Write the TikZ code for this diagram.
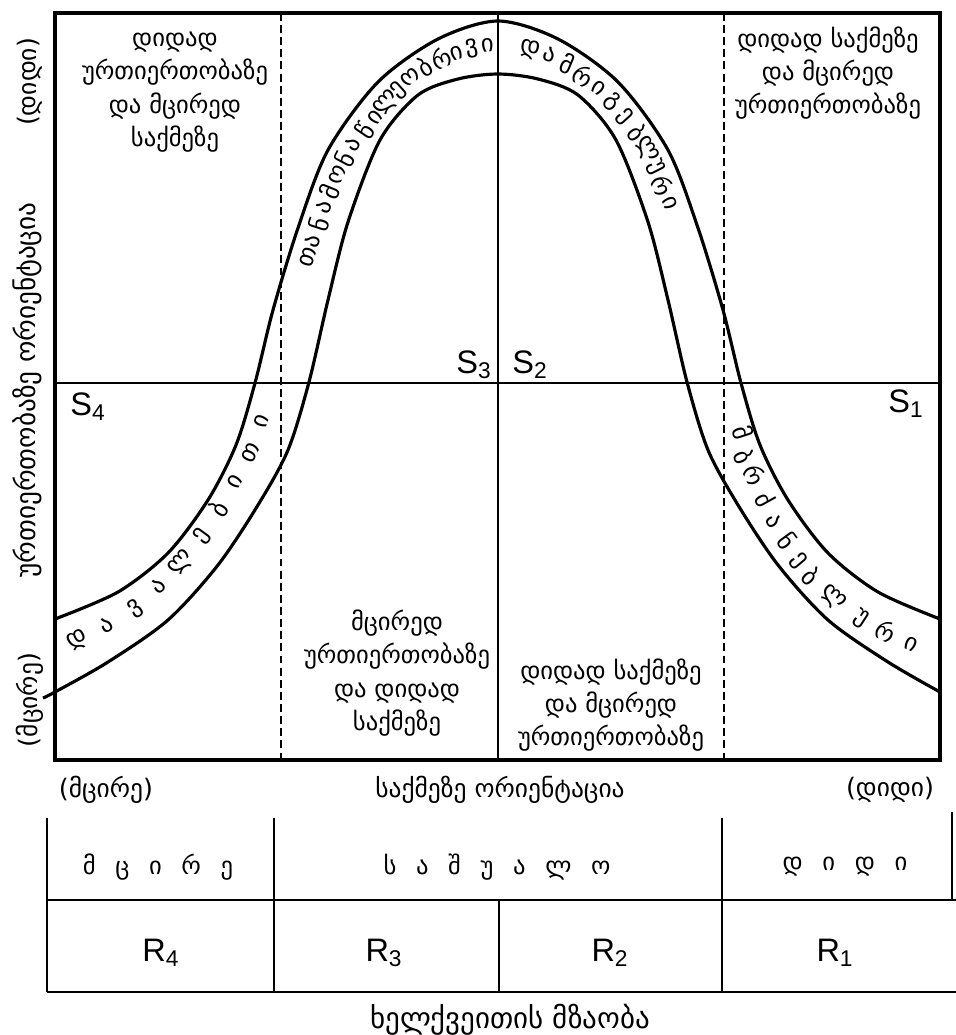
\documentclass[tikz,border=0pt]{standalone}
\usepackage{fontspec}
\setmainfont{DejaVu Sans}
\newfontfamily\latinfont{Liberation Sans}
\newcommand\geotext{\fontsize{14}{19}\selectfont}
\newcommand\spacedtext{\fontsize{14}{19}\selectfont\spaceskip 0.8em\relax}
\newcommand\axistext{\fontsize{14.5}{17}\selectfont}
\newcommand\bandtext{\fontsize{14}{17}\selectfont}
\begin{document}
\begin{tikzpicture}[x=0.02cm, y=-0.02cm,
    frame/.style={line width=2pt},
    axisline/.style={line width=1.3pt},
    divider/.style={line width=1.4pt, dash pattern=on 4.5pt off 2.4pt},
    bell/.style={line width=1.8pt},
    grid line/.style={line width=1.6pt},
    cell/.style={font=\geotext, align=center},
    spaced/.style={font=\spacedtext},
    axislabel/.style={font=\axistext},
    state/.style={font=\latinfont\fontsize{18.5}{22}\selectfont, inner sep=0pt},
    bandletter/.style={font=\bandtext, inner sep=0pt, rotate=#1}]
    \useasboundingbox (0,0) rectangle (956,1035);

    % Riquadro e assi
    \draw[frame] (55,13) rectangle (940,760);
    \draw[axisline] (55,383) -- (940,383);
    \draw[axisline] (498,13) -- (498,760);

    % Linee tratteggiate
    \draw[divider] (281,13) -- (281,760);
    \draw[divider] (724,13) -- (724,760);

    % Curva a campana (esterna e interna)
    \draw[bell] plot[smooth] coordinates {(55,619) (118,592) (168,553) (208,500)
        (236,445) (255,383) (273,310) (298,228) (328,150) (378,82) (438,39)
        (498,21) (558,39) (618,82) (668,150) (698,228) (723,310) (741,383)
        (760,445) (788,500) (828,553) (878,592) (940,619)};
    \draw[bell] plot[smooth] coordinates {(43,698) (55,692) (108,662) (168,620)
        (218,565) (258,505) (288,450) (309,382) (328,300) (348,222) (380,140)
        (418,95) (458,79) (498,74) (538,79) (578,95) (616,140) (648,222)
        (668,300) (687,382) (708,450) (738,505) (778,565) (828,620) (888,662)
        (940,692)};

    % Lettere lungo la fascia
    \foreach \x/\y/\a/\l [count=\i] in {308/257/73/თ, 313/241/73/ა, 318.5/224/72/ნ,
        324/207.5/70/ა, 330/191.5/68/მ, 337/175/65/ო, 345/159/62/ნ, 353/144/59/ა,
        364.5/131/56/წ, 375/117/52/ი, 386.5/103.5/47/ლ, 398.5/90.5/42/ე,
        410.5/77/37/ო, 425/67/31/ბ, 441/58.5/24/რ, 456.5/53/17/ი, 472/48.5/11/ვ,
        487.5/45/5/ი}
        \node[bandletter=\a] (partic\i) at (\x,\y) {\l};
    \foreach \x/\y/\a/\l [count=\i] in {530.5/49.5/-12/დ, 549.5/55/-17/ა,
        567/63.5/-23/მ, 583/75.5/-31/რ, 599/87.5/-37/ი, 612.5/102/-43/გ,
        625/117/-48/ე, 637/132.5/-54/ბ, 646.5/150/-59/ლ, 656/167/-63/უ,
        663/185.5/-67/რ, 670/203.5/-69/ი}
        \node[bandletter=\a] (coach\i) at (\x,\y) {\l};
    \foreach \x/\y/\a/\l [count=\i] in {78/640.5/27/დ, 106.5/625/30/ა, 135/609/35/ვ,
        158.5/586.5/42/ა, 181.5/563.5/48/ლ, 202/536/54/ე, 218/509/57/ბ,
        235/481.5/60/ი, 250.5/452.5/65/თ, 261.5/421.5/70/ი}
        \node[bandletter=\a] (assign\i) at (\x,\y) {\l};
    \foreach \x/\y/\a/\l [count=\i] in {743/432/-72/მ, 744/457/-68/ბ, 755/475/-64/რ,
        765/499/-61/ძ, 774/521/-58/ა, 787/541/-54/ნ, 798/561/-50/ე, 811/576/-46/ბ,
        833/598/-40/ლ, 861/619/-33/უ, 886/631/-28/რ, 911/644/-25/ი}
        \node[bandletter=\a] (command\i) at (\x,\y) {\l};

    % Stili di leadership
    \node[state, anchor=north west] (s4) at (70,392) {S\textsubscript{4}};
    \node[state, anchor=south east] (s3) at (492,379) {S\textsubscript{3}};
    \node[state, anchor=south west] (s2) at (512,379) {S\textsubscript{2}};
    \node[state, anchor=north east] (s1) at (924,389) {S\textsubscript{1}};

    % Quadranti
    \node[cell] (relHigh) at (175,92) {დიდად\\ურთიერთობაზე\\და მცირედ\\საქმეზე};
    \node[cell] (taskHighTop) at (828,73) {დიდად საქმეზე\\და მცირედ\\ურთიერთობაზე};
    \node[cell] (relLow) at (397,673) {მცირედ\\ურთიერთობაზე\\და დიდად\\საქმეზე};
    \node[cell] (taskHigh) at (611,705) {დიდად საქმეზე\\და მცირედ\\ურთიერთობაზე};

    % Etichette degli assi
    \node[axislabel] (xLow) at (106,790) {(მცირე)};
    \node[axislabel] (xName) at (500,790) {საქმეზე ორიენტაცია};
    \node[axislabel] (xHigh) at (890,790) {(დიდი)};
    \node[axislabel, font=\fontsize{15.5}{18}\selectfont, rotate=90] (yName)
        at (27,390) {ურთიერთობაზე ორიენტაცია};
    \node[axislabel, rotate=90] (yHigh) at (30,82) {(დიდი)};
    \node[axislabel, rotate=90] (yLow) at (30,700) {(მცირე)};

    % Tabella della prontezza
    \draw[grid line] (47,900) -- (956,900);
    \draw[grid line] (47,992) -- (956,992);
    \draw[grid line] (47,818) -- (47,992);
    \draw[grid line] (274,818) -- (274,992);
    \draw[grid line] (499,900) -- (499,992);
    \draw[grid line] (722,818) -- (722,992);
    \draw[grid line] (952,812) -- (952,900);
    \node[spaced] (readyLow) at (158,867) {მ ც ი რ ე};
    \node[spaced] (readyMid) at (497,867) {ს ა შ უ ა ლ ო};
    \node[spaced] (readyHigh) at (845,867) {დ ი დ ი};
    \node[state] (r4) at (161,953) {R\textsubscript{4}};
    \node[state] (r3) at (384,953) {R\textsubscript{3}};
    \node[state] (r2) at (610,953) {R\textsubscript{2}};
    \node[state] (r1) at (835,953) {R\textsubscript{1}};
    \node[cell, font=\fontsize{16.5}{20}\selectfont] (readiness) at (510,1020)
        {ხელქვეითის მზაობა};
\end{tikzpicture}
\end{document}
